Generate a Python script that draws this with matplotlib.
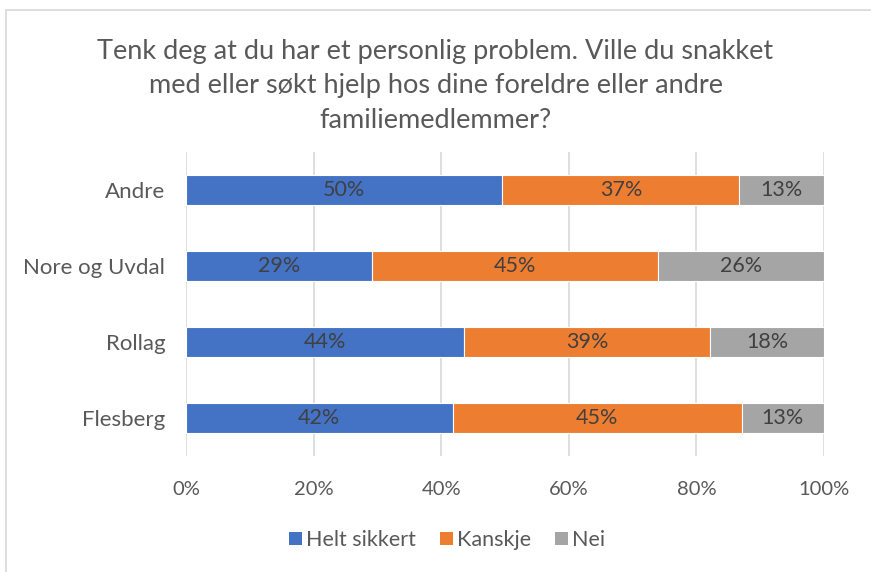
import matplotlib
matplotlib.use("Agg")
import matplotlib.pyplot as plt
from matplotlib.patches import Rectangle, Patch

plt.rcParams['font.family'] = ['Lato', 'DejaVu Sans']

categories = ["Flesberg", "Rollag", "Nore og Uvdal", "Andre"]
series_names = ["Helt sikkert", "Kanskje", "Nei"]
helt_sikkert = [41.8, 43.6, 29.2, 49.6]
kanskje = [45.3, 38.6, 44.8, 37.1]
nei = [12.9, 17.8, 26.0, 13.3]
colors = ["#4472C4", "#ED7D31", "#A5A5A5"]
xticks = [0, 20, 40, 60, 80, 100]
xticklabels = ["0%", "20%", "40%", "60%", "80%", "100%"]
title = ("Tenk deg at du har et personlig problem. Ville du snakket\n"
         "med eller søkt hjelp hos dine foreldre eller andre\n"
         "familiemedlemmer?")

fig = plt.figure(figsize=(8.71, 5.72), dpi=100)
ax = fig.add_axes([186/871, 1-456/572, (824-186)/871, (456-152)/572])

# chart border
fig.patches.append(Rectangle((6/871, -0.1), 1.2, 1.1 - 10/572, transform=fig.transFigure,
                             fill=False, edgecolor="#D9D9D9", linewidth=1.2))

ypos = list(range(len(categories)))
left = [0]*len(categories)
for name, vals, c in zip(series_names, [helt_sikkert, kanskje, nei], colors):
    ax.barh(ypos, vals, left=left, height=0.4, color=c, edgecolor="white",
            linewidth=0.8, label=name, zorder=3)
    for y, v, l in zip(ypos, vals, left):
        ax.text(l + v/2, y, f"{round(v)}%", ha="center", va="center",
                fontsize=15.5, color="#404040", zorder=4)
    left = [a + b for a, b in zip(left, vals)]

ax.set_xlim(0, 100)
ax.set_ylim(-0.5, len(categories) - 0.5)
ax.set_xticks(xticks)
ax.set_xticklabels(xticklabels)
ax.set_yticks(ypos)
ax.set_yticklabels(categories)
ax.tick_params(axis="both", length=0, colors="#595959")
ax.tick_params(axis="x", pad=18, labelsize=14.5)
ax.tick_params(axis="y", pad=15, labelsize=16)
ax.xaxis.grid(True, color="#D9D9D9", linewidth=1.2, zorder=0)
for s in ax.spines.values():
    s.set_visible(False)

fig.text(0.5, 1 - 86/572, title, ha="center", va="center", fontsize=19.5,
         color="#595959", linespacing=1.45)

handles = [Patch(facecolor=c, edgecolor="none") for c in colors]
fig.legend(handles, series_names, loc="center", bbox_to_anchor=(447/871, 1 - 540/572),
           ncol=3, frameon=False, fontsize=15.5, handlelength=0.6, handleheight=0.6,
           handletextpad=0.2, columnspacing=1.1, labelcolor="#595959")

fig.savefig("out.png", dpi=100)
